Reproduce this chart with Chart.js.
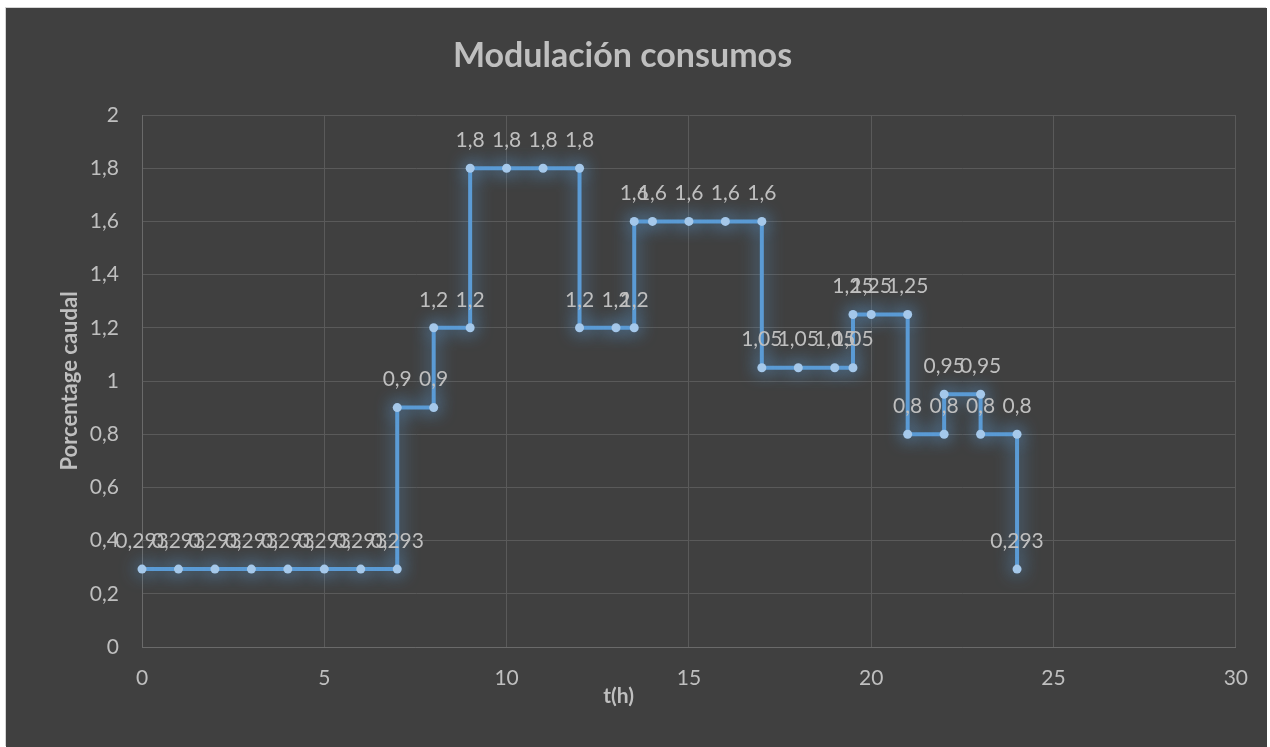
<!DOCTYPE html>
<html>
<head>
<meta charset="utf-8">
<script src="https://cdn.jsdelivr.net/npm/chart.js@4"></script>
<style>
  body { margin: 0; background: #fff; }
  #box {
    position: absolute; left: 6px; top: 8px;
    width: 1261px; height: 739px;
    background: #404040;
    box-shadow: -1px -1px 0 0 #d4d4d4;
  }
</style>
</head>
<body>
<div id="box"><canvas id="modulacion" width="1261" height="739"></canvas></div>
<script>
// hour of day for each step corner
const hours = [0, 1, 2, 3, 4, 5, 6, 7,
  7, 8,
  8, 9,
  9, 10, 11, 12,
  12, 13, 13.5,
  13.5, 14, 15, 16, 17,
  17, 18, 19, 19.5,
  19.5, 20, 21,
  21, 22,
  22, 23,
  23, 24,
  24];
// consumption factor at each corner
const caudal = [0.293, 0.293, 0.293, 0.293, 0.293, 0.293, 0.293, 0.293,
  0.9, 0.9,
  1.2, 1.2,
  1.8, 1.8, 1.8, 1.8,
  1.2, 1.2, 1.2,
  1.6, 1.6, 1.6, 1.6, 1.6,
  1.05, 1.05, 1.05, 1.05,
  1.25, 1.25, 1.25,
  0.8, 0.8,
  0.95, 0.95,
  0.8, 0.8,
  0.293];

const FONT = 'Lato, "Open Sans", sans-serif';
const TEXT = '#bfbfbf';
const GRID = '#5a5a5a';

const comma = v => String(Number(Number(v).toFixed(3))).replace('.', ',');

// soft blue halo round the line and markers
const glow = {
  id: 'glow',
  beforeDatasetDraw(chart) {
    const ctx = chart.ctx;
    ctx.save();
    ctx.shadowColor = 'rgba(91, 155, 213, 1)';
    ctx.shadowBlur = 18;
  },
  afterDatasetDraw(chart) {
    chart.ctx.restore();
  }
};

// value labels above each point
const pointLabels = {
  id: 'pointLabels',
  afterDatasetsDraw(chart) {
    const ctx = chart.ctx;
    const meta = chart.getDatasetMeta(0);
    ctx.save();
    ctx.font = '21px ' + FONT;
    ctx.fillStyle = TEXT;
    ctx.textAlign = 'center';
    ctx.textBaseline = 'middle';
    meta.data.forEach((pt, i) => {
      ctx.fillText(comma(caudal[i]), pt.x, pt.y - 28);
    });
    ctx.restore();
  }
};

// x axis caption, sits a little left of centre
const xCaption = {
  id: 'xCaption',
  afterDraw(chart) {
    const ctx = chart.ctx;
    const x = chart.scales.x.getPixelForValue(13.07);
    ctx.save();
    ctx.font = 'bold 21px ' + FONT;
    ctx.fillStyle = TEXT;
    ctx.textAlign = 'center';
    ctx.textBaseline = 'middle';
    ctx.fillText('t(h)', x, 688);
    ctx.restore();
  }
};

new Chart(document.getElementById('modulacion'), {
  type: 'scatter',
  data: {
    datasets: [{
      label: 'Modulación consumos',
      data: hours.map((h, i) => ({ x: h, y: caudal[i] })),
      showLine: true,
      clip: false,
      borderColor: '#5b9bd5',
      borderWidth: 4,
      pointRadius: 4.5,
      pointBackgroundColor: '#a5c8ea',
      pointBorderWidth: 0,
      tension: 0
    }]
  },
  options: {
    responsive: false,
    animation: false,
    layout: { padding: { left: 0, right: 28, top: 0, bottom: 0 } },
    plugins: {
      legend: { display: false },
      tooltip: { enabled: false },
      title: {
        display: true,
        text: 'Modulación consumos',
        color: TEXT,
        font: { family: FONT, size: 34, weight: 'bold', lineHeight: 1.2 },
        padding: { top: 27.6, bottom: 38.6 }
      }
    },
    scales: {
      x: {
        type: 'linear',
        min: 0, max: 30,
        afterFit: s => { s.height = 100; },
        grid: { color: GRID, drawTicks: false },
        border: { color: '#6a6a6a' },
        ticks: { stepSize: 5, color: TEXT, padding: 19, font: { family: FONT, size: 21 } }
      },
      y: {
        min: 0, max: 2,
        afterFit: s => { s.width = 136; },
        grid: { color: GRID, drawTicks: false },
        border: { color: '#6a6a6a' },
        ticks: { stepSize: 0.2, color: TEXT, padding: 23, font: { family: FONT, size: 21 },
          callback: v => comma(Number(v).toFixed(1)) },
        title: {
          display: true,
          text: 'Porcentage caudal',
          color: TEXT,
          font: { family: FONT, size: 22, weight: 'bold', lineHeight: 1.2 },
          padding: { top: 50.8, bottom: 0 }
        }
      }
    }
  },
  plugins: [glow, pointLabels, xCaption]
});
</script>
</body>
</html>
